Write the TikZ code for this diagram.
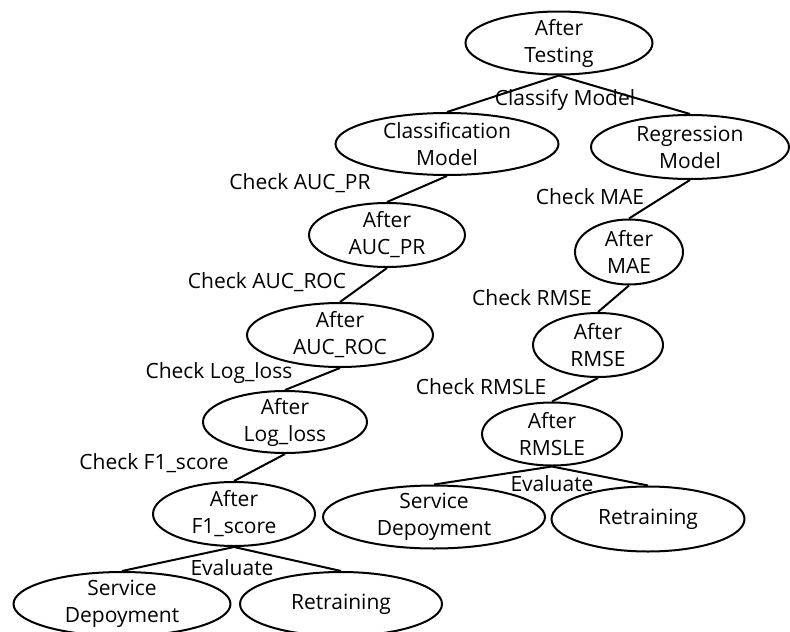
\documentclass[tikz,border=0pt]{standalone}
\usepackage{fontspec}
\setmainfont{Open Sans}
\usetikzlibrary{shapes.geometric}

\tikzset{
  state/.style={ellipse, draw, line width=2pt, align=center, inner xsep=0pt,
    inner ysep=-8pt, font=\fontsize{21}{27}\selectfont},
  check/.style={font=\fontsize{21}{27}\selectfont, inner sep=0pt},
  link/.style={line width=2pt}
}

\begin{document}
\begin{tikzpicture}[x=1pt,y=-1pt]
\useasboundingbox (0,0) rectangle (790,632);

% top
\node[state,minimum width=187pt,minimum height=63pt] (test) at (559,43) {After\\Testing};
\node[state,minimum width=223pt,minimum height=62pt] (cls) at (447,144) {Classification\\Model};
\node[state,minimum width=198pt,minimum height=64pt] (reg) at (690,147) {Regression\\Model};

% classification branch
\node[state,minimum width=156pt,minimum height=64pt] (aucpr) at (387,235) {After\\AUC\_PR};
\node[state,minimum width=186pt,minimum height=64pt] (aucroc) at (340,335) {After\\AUC\_ROC};
\node[state,minimum width=164pt,minimum height=62pt] (logloss) at (285,422) {After\\Log\_loss};
\node[state,minimum width=162pt,minimum height=64pt] (fone) at (234,514) {After\\F1\_score};
\node[state,minimum width=217pt,minimum height=64pt] (servL) at (122,604) {Service\\Depoyment};
\node[state,minimum width=202pt,minimum height=64pt] (retrL) at (341,604) {Retraining};

% regression branch
\node[state,minimum width=108pt,minimum height=65pt] (mae) at (629,252) {After\\MAE};
\node[state,minimum width=130pt,minimum height=64pt] (rmse) at (598,345) {After\\RMSE};
\node[state,minimum width=140pt,minimum height=63pt] (rmsle) at (552,434) {After\\RMSLE};
\node[state,minimum width=222pt,minimum height=63pt] (servR) at (434,517) {Service\\Depoyment};
\node[state,minimum width=193pt,minimum height=65pt] (retrR) at (648,519) {Retraining};

\draw[link] (test.south) -- (cls.north);
\draw[link] (test.south) -- (reg.north);
\draw[link] (cls.south) -- (aucpr.north);
\draw[link] (aucpr.south) -- (aucroc.north);
\draw[link] (aucroc.south) -- (logloss.north);
\draw[link] (logloss.south) -- (fone.north);
\draw[link] (fone.south) -- (servL.north);
\draw[link] (fone.south) -- (retrL.north);
\draw[link] (reg.south) -- (mae.north);
\draw[link] (mae.south) -- (rmse.north);
\draw[link] (rmse.south) -- (rmsle.north);
\draw[link] (rmsle.south) -- (servR.north);
\draw[link] (rmsle.south) -- (retrR.north);

% edge texts
\node[check] (tclassify) at (565,100) {Classify Model};
\node[check] (tpr) at (300,183) {Check AUC\_PR};
\node[check] (troc) at (267,282) {Check AUC\_ROC};
\node[check] (tlog) at (219,373) {Check Log\_loss};
\node[check] (tf1) at (154,463) {Check F1\_score};
\node[check] (tevalL) at (232,568) {Evaluate};
\node[check] (tmae) at (590,197) {Check MAE};
\node[check] (trmse) at (532,298) {Check RMSE};
\node[check] (trmsle) at (481,387) {Check RMSLE};
\node[check] (tevalR) at (552,484) {Evaluate};

\end{tikzpicture}
\end{document}
